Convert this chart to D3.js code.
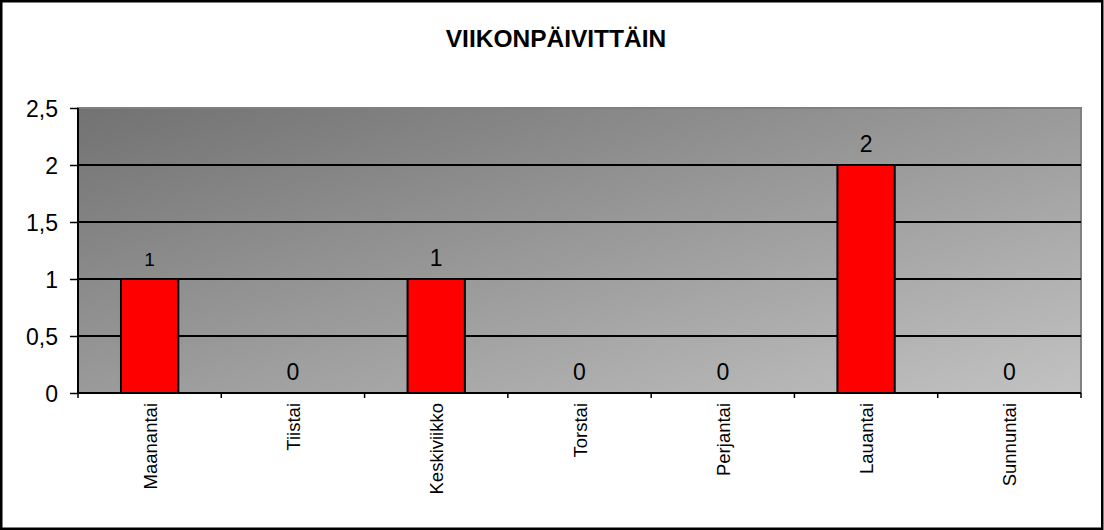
<!DOCTYPE html>
<html>
<head>
<meta charset="utf-8">
<script src="https://cdn.jsdelivr.net/npm/d3@7"></script>
<style>
  body { margin: 0; background: #fff; }
  svg { display: block; font-family: "Liberation Sans", Arial, sans-serif; }
</style>
</head>
<body>
<div id="chart"></div>
<script>
// data
const days = ["Maanantai", "Tiistai", "Keskiviikko", "Torstai", "Perjantai", "Lauantai", "Sunnuntai"];
const counts = [1, 0, 1, 0, 0, 2, 0];
const yTicks = [0, 0.5, 1, 1.5, 2, 2.5];

const width = 1104, height = 530;
const margin = { top: 108, right: 23, bottom: 137, left: 78 };

const svg = d3.select("#chart").append("svg")
  .attr("width", width)
  .attr("height", height);

// outer border
svg.append("rect")
  .attr("x", 1.25).attr("y", 1.25)
  .attr("width", width - 3).attr("height", height - 2.5)
  .attr("fill", "white")
  .attr("stroke", "black")
  .attr("stroke-width", 2.5);

// title
svg.append("text")
  .attr("x", 556).attr("y", 47)
  .attr("text-anchor", "middle")
  .style("font-size", "24.5px")
  .style("font-weight", "bold")
  .text("VIIKONPÄIVITTÄIN");

const x = d3.scaleBand()
  .domain(days)
  .range([margin.left, width - margin.right]);

const y = d3.scaleLinear()
  .domain([0, 2.5])
  .range([height - margin.bottom, margin.top]);

//gradient for plot area
const grad = svg.append("defs").append("linearGradient")
  .attr("id", "bg")
  .attr("x1", "0%").attr("y1", "0%")
  .attr("x2", "100%").attr("y2", "100%");
grad.append("stop").attr("offset", "0%").attr("stop-color", "#727272");
grad.append("stop").attr("offset", "100%").attr("stop-color", "#c2c2c2");

svg.append("rect")
  .attr("x", margin.left).attr("y", margin.top)
  .attr("width", x.range()[1] - margin.left)
  .attr("height", y(0) - margin.top)
  .attr("fill", "url(#bg)")
  .attr("stroke", "#808080")
  .attr("stroke-width", 2);

// gridlines
svg.append("g")
  .selectAll("line")
  .data(yTicks.filter(t => t > 0 && t < 2.5))
  .enter()
  .append("line")
  .attr("x1", margin.left).attr("x2", x.range()[1])
  .attr("y1", d => y(d)).attr("y2", d => y(d))
  .attr("stroke", "black")
  .attr("stroke-width", 2);

// bars
svg.append("g")
  .selectAll("rect")
  .data(counts)
  .enter()
  .append("rect")
  .attr("x", (d, i) => x(days[i]) + x.bandwidth() * 0.3)
  .attr("width", x.bandwidth() * 0.4)
  .attr("y", d => y(d))
  .attr("height", d => y(0) - y(d))
  .attr("fill", "#ff0000")
  .attr("stroke", "black")
  .attr("stroke-width", 2)
  .style("display", d => d > 0 ? null : "none");

// value labels
svg.append("g")
  .selectAll("text")
  .data(counts)
  .enter()
  .append("text")
  .attr("x", (d, i) => x(days[i]) + x.bandwidth() / 2)
  .attr("y", d => y(d) - 13)
  .attr("text-anchor", "middle")
  .style("font-size", (d, i) => i === 0 ? "19px" : "23px")
  .text(d => d);

// y axis
const yAxis = svg.append("g")
  .attr("transform", `translate(${margin.left},0)`)
  .call(d3.axisLeft(y).tickValues(yTicks).tickSize(8).tickPadding(12)
    .tickFormat(d => String(d).replace(".", ",")));
yAxis.select(".domain").attr("stroke", "black").attr("stroke-width", 2).attr("d", `M0,${y(0)}V${y(2.5)}`);
yAxis.selectAll(".tick line").attr("stroke", "black").attr("stroke-width", 1.5);
yAxis.selectAll(".tick text")
  .attr("fill", "black")
  .style("font-size", "23px")
  .style("font-family", "'Liberation Sans', Arial, sans-serif")
  .attr("dy", "0.36em");

// x axis with boundary ticks
const xg = svg.append("g").attr("transform", `translate(0,${y(0)})`);
xg.append("line")
  .attr("x1", margin.left).attr("x2", x.range()[1])
  .attr("stroke", "black").attr("stroke-width", 2);
xg.selectAll(".bt")
  .data(days.map((d, i) => i).concat([days.length]))
  .enter()
  .append("line")
  .attr("x1", i => i < days.length ? x(days[i]) : x.range()[1])
  .attr("x2", i => i < days.length ? x(days[i]) : x.range()[1])
  .attr("y1", 0).attr("y2", 5)
  .attr("stroke", "black").attr("stroke-width", 1.5);

xg.selectAll(".lbl")
  .data(days)
  .enter()
  .append("text")
  .attr("transform", d => `translate(${x(d) + x.bandwidth() / 2 + 7},10) rotate(-90)`)
  .attr("text-anchor", "end")
  .style("font-size", "18.5px")
  .text(d => d);
</script>
</body>
</html>
